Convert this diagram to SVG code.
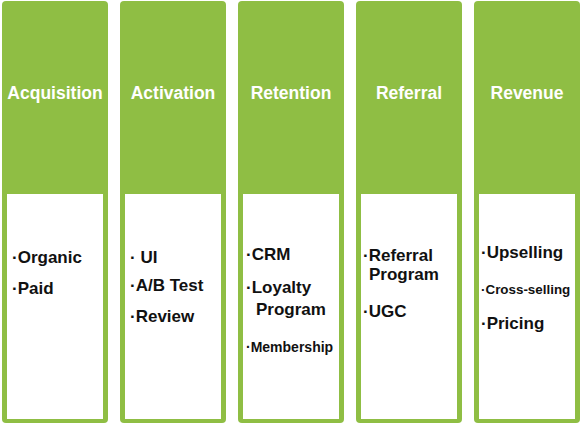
<svg xmlns="http://www.w3.org/2000/svg" width="582" height="426" viewBox="0 0 582 426">
<style>
.col{fill:#8fbe44}
.inner{fill:#ffffff}
.hd{font-family:"Liberation Sans",Arial,sans-serif;font-weight:bold;font-size:17.5px;fill:#ffffff;text-anchor:middle}
.it{font-family:"Liberation Sans",Arial,sans-serif;font-weight:bold;font-size:17px;fill:#111111}
text.sm{font-size:14px}
text.xs{font-size:13.4px}
</style>
<rect x="0" y="0" width="582" height="426" fill="#ffffff"/>
<g id="acquisition">
<rect class="col" x="2" y="1" width="106" height="422" rx="4"/>
<rect class="inner" x="7" y="194" width="96" height="225"/>
<text class="hd" x="55" y="99">Acquisition</text>
<text class="it" x="12" y="263">·Organic</text>
<text class="it" x="12" y="294">·Paid</text>
</g>
<g id="activation">
<rect class="col" x="120" y="1" width="106" height="422" rx="4"/>
<rect class="inner" x="125" y="194" width="96" height="225"/>
<text class="hd" x="173" y="99">Activation</text>
<text class="it" x="130" y="263">· UI</text>
<text class="it" x="130" y="291">·A/B Test</text>
<text class="it" x="130" y="322">·Review</text>
</g>
<g id="retention">
<rect class="col" x="238" y="1" width="106" height="422" rx="4"/>
<rect class="inner" x="243" y="194" width="96" height="225"/>
<text class="hd" x="291" y="99">Retention</text>
<text class="it" x="246" y="260">·CRM</text>
<text class="it" x="246" y="293">·Loyalty</text>
<text class="it" x="256" y="315">Program</text>
<text class="it sm" x="246" y="352">·Membership</text>
</g>
<g id="referral">
<rect class="col" x="356" y="1" width="106" height="422" rx="4"/>
<rect class="inner" x="361" y="194" width="96" height="225"/>
<text class="hd" x="409" y="99">Referral</text>
<text class="it" x="363" y="261">·Referral</text>
<text class="it" x="369" y="280">Program</text>
<text class="it" x="363" y="317">·UGC</text>
</g>
<g id="revenue">
<rect class="col" x="474" y="1" width="106" height="422" rx="4"/>
<rect class="inner" x="479" y="194" width="96" height="225"/>
<text class="hd" x="527" y="99">Revenue</text>
<text class="it" x="481" y="258">·Upselling</text>
<text class="it xs" x="481" y="294">·Cross-selling</text>
<text class="it" x="481" y="329">·Pricing</text>
</g>
<g id="connectors"></g>
</svg>
